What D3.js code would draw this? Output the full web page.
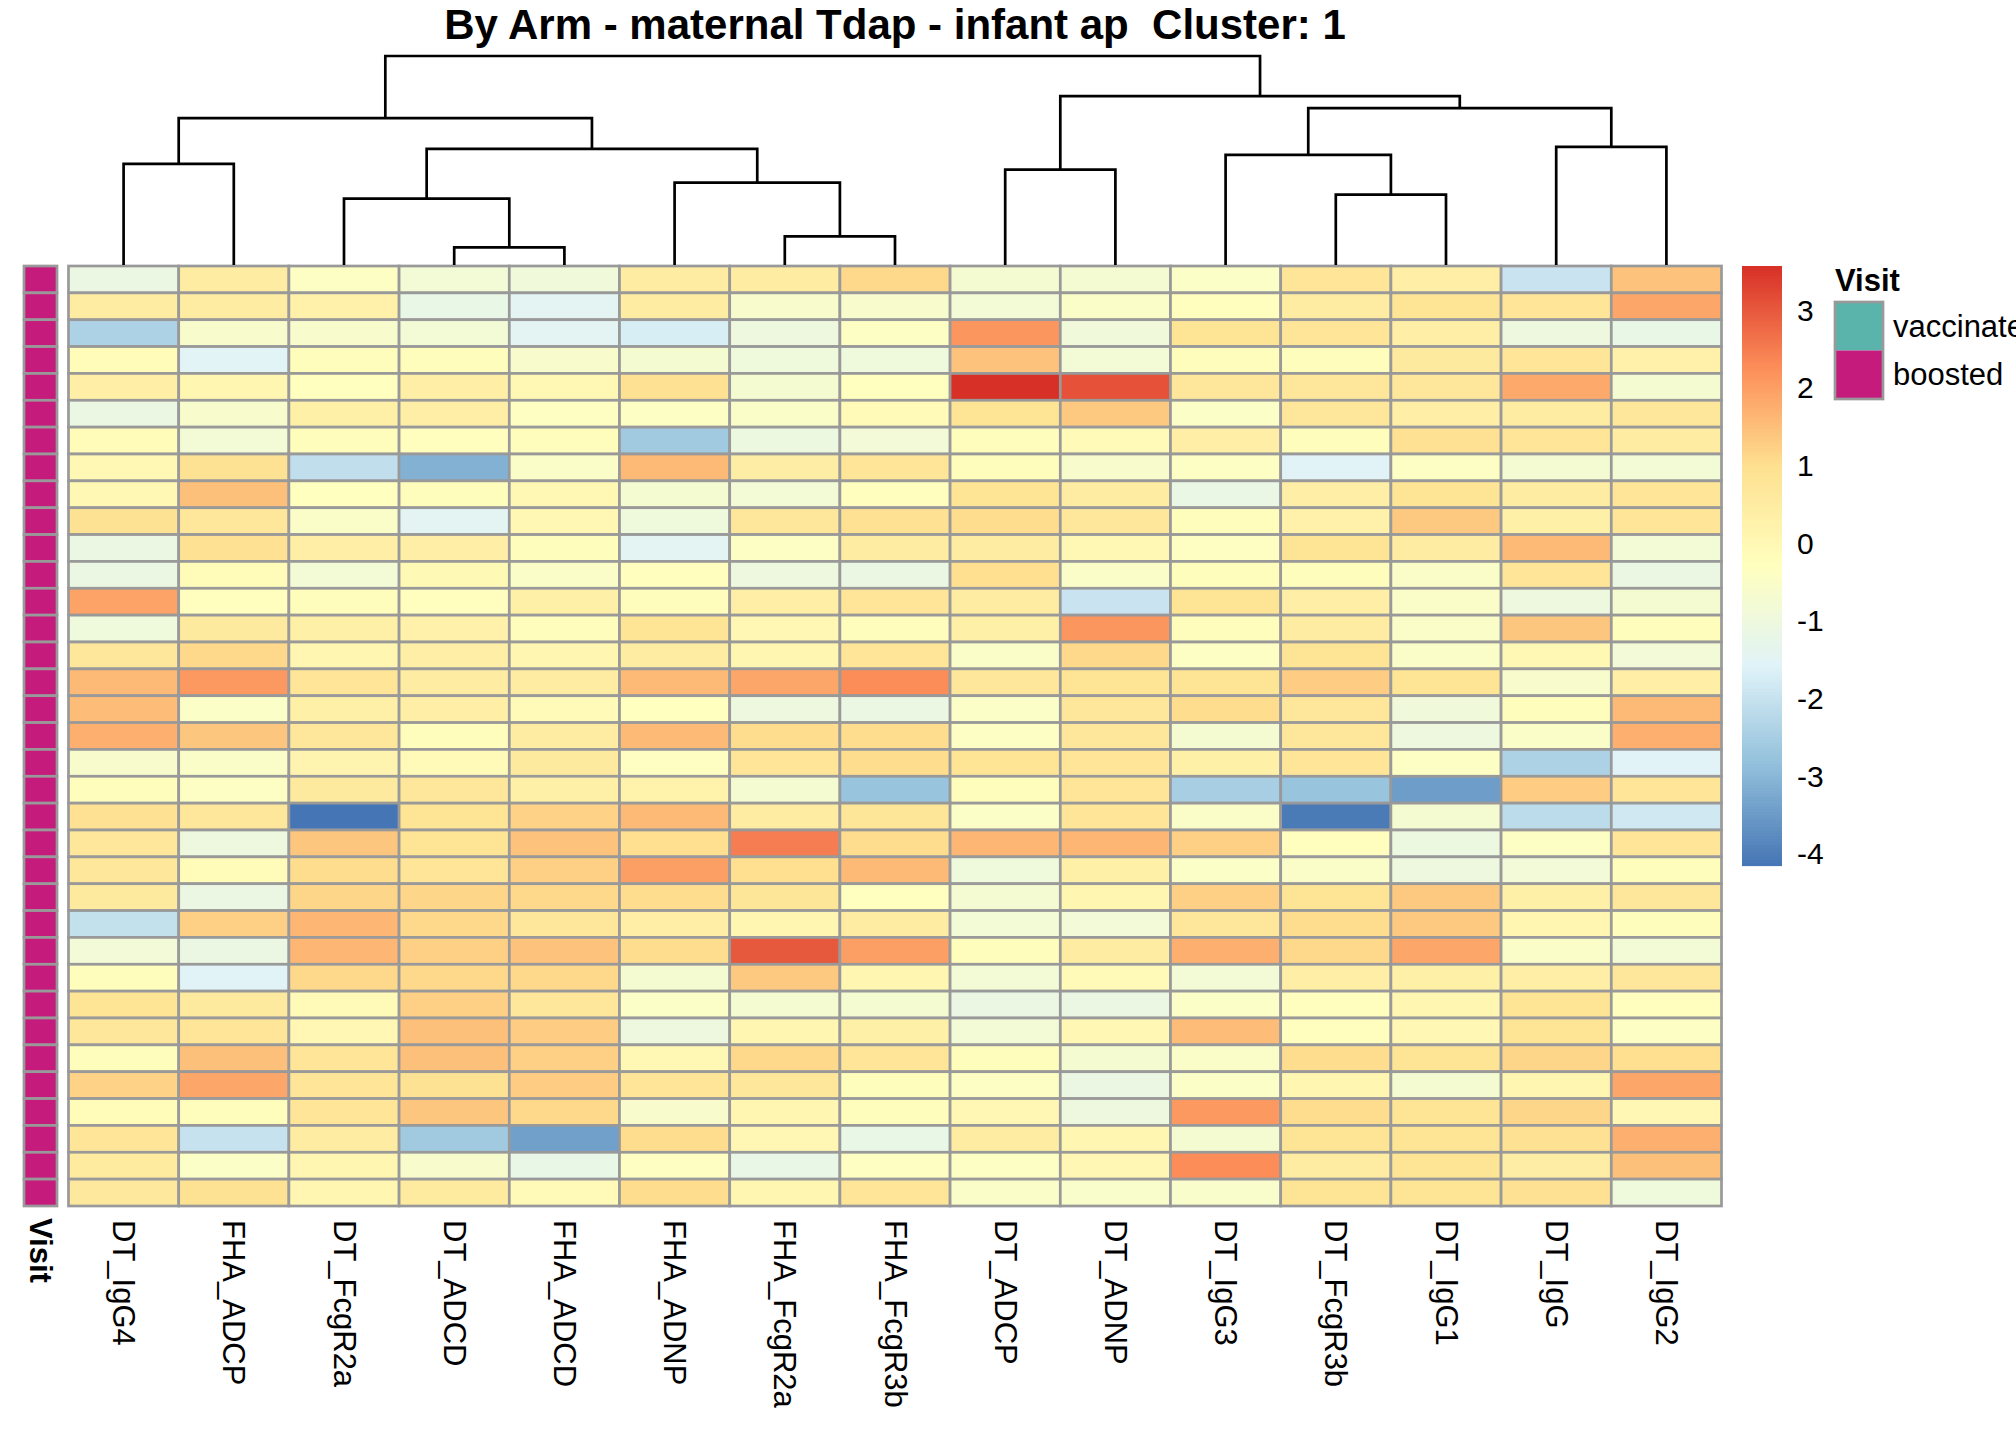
<!DOCTYPE html>
<html>
<head>
<meta charset="utf-8">
<script src="https://cdn.jsdelivr.net/npm/d3@7"></script>
<style>
  body { margin: 0; background: #fff; }
  text { font-family: "Liberation Sans", Arial, sans-serif; }
</style>
</head>
<body>
<div class="container"></div>
<script>
// data
const features = ['DT_IgG4', 'FHA_ADCP', 'DT_FcgR2a', 'DT_ADCD', 'FHA_ADCD', 'FHA_ADNP', 'FHA_FcgR2a', 'FHA_FcgR3b',
                  'DT_ADCP', 'DT_ADNP', 'DT_IgG3', 'DT_FcgR3b', 'DT_IgG1', 'DT_IgG', 'DT_IgG2'];

const values = [
  [-1.1, 0.5, -0.4, -0.8, -0.9, 0.5, 0.5, 1.1, -0.7, -0.75, -0.45, 0.8, 0.4, -1.95, 1.45],
  [0.5, 0.5, 0.3, -1.2, -1.45, 0.5, -0.6, -0.6, -0.8, -0.5, -0.25, 0.5, 0.85, 0.8, 1.9],
  [-2.4, -0.6, -0.6, -0.8, -1.45, -1.7, -1.0, -0.4, 2.15, -0.9, 0.85, 0.8, 0.4, -1.0, -1.2],
  [-0.15, -1.5, -0.2, -0.2, -0.6, -0.7, -0.95, -0.95, 1.45, -0.8, -0.2, -0.2, 0.6, 0.8, 0.3],
  [0.4, 0.1, -0.3, 0.4, 0.0, 0.95, -0.7, -0.3, 3.57, 3.1, 0.7, 0.7, 0.7, 1.85, -0.7],
  [-1.1, -0.6, 0.35, 0.4, -0.35, -0.4, -0.5, -0.1, 0.85, 1.35, -0.45, 0.7, 0.4, 0.5, 0.7],
  [-0.15, -0.8, -0.2, -0.25, -0.2, -2.6, -1.05, -0.85, -0.2, -0.1, 0.4, -0.2, 0.95, 0.8, 0.5],
  [0.0, 0.9, -2.1, -3.1, -0.5, 1.6, 0.45, 0.8, -0.2, -0.6, -0.4, -1.55, -0.4, -0.75, -0.8],
  [0.0, 1.5, -0.3, -0.2, 0.0, -0.7, -0.8, -0.25, 0.85, 0.5, -1.15, 0.4, 0.85, 0.5, 0.8],
  [0.9, 0.7, -0.5, -1.45, 0.05, -0.95, 0.7, 0.95, 1.05, 0.7, -0.2, 0.3, 1.35, 0.35, 0.8],
  [-1.1, 0.95, 0.4, 0.4, -0.2, -1.45, -0.4, 0.5, 0.5, 0.0, -0.35, 0.85, 0.5, 1.6, -0.8],
  [-1.1, -0.15, -0.8, -0.05, -0.5, -0.25, -1.0, -1.1, 1.0, -0.5, -0.2, -0.2, -0.5, 0.8, -1.1],
  [1.95, -0.25, -0.2, -0.25, 0.35, -0.2, 0.4, 0.8, 0.5, -1.95, 0.85, 0.4, -0.5, -1.0, -0.7],
  [-0.95, 0.6, 0.35, 0.3, -0.2, 0.85, 0.05, -0.2, 0.35, 2.15, -0.2, 0.5, -0.5, 1.4, -0.2],
  [0.7, 1.1, 0.1, 0.4, 0.1, 0.5, 0.1, 0.8, -0.5, 1.1, -0.4, 0.85, -0.5, 0.0, -0.85],
  [1.6, 2.1, 0.8, 0.5, 0.5, 1.6, 1.9, 2.3, 0.7, 0.85, 0.85, 1.3, 0.85, -0.6, 0.4],
  [1.55, -0.45, 0.35, 0.4, -0.1, -0.3, -1.0, -1.1, -0.45, 0.7, 1.05, 0.7, -0.9, -0.2, 1.6],
  [1.75, 1.4, 0.7, -0.2, 0.5, 1.6, 1.05, 1.05, -0.4, 0.7, -0.7, 0.7, -1.0, -0.5, 1.75],
  [-0.6, -0.5, 0.15, -0.1, 0.6, -0.35, 0.8, 1.05, 0.85, 0.8, 0.35, 0.8, -0.4, -2.4, -1.55],
  [-0.2, -0.4, 0.6, 0.7, 0.35, 0.25, -0.7, -2.75, -0.2, 0.8, -2.5, -2.75, -3.45, 1.3, 0.8],
  [0.95, 0.7, -4.15, 0.85, 1.2, 1.6, 0.5, 0.75, -0.45, 0.8, -0.5, -4.05, -0.7, -2.15, -1.85],
  [0.7, -1.0, 1.4, 0.85, 1.45, 1.0, 2.5, 1.05, 1.65, 1.65, 1.25, -0.25, -1.05, -0.4, 0.8],
  [0.7, -0.15, 1.05, 0.8, 1.25, 2.0, 1.0, 1.6, -0.95, 0.35, -0.45, -0.5, -1.0, -0.85, -0.2],
  [0.6, -1.1, 1.15, 1.15, 1.1, 1.05, 0.75, -0.3, -0.75, 0.1, 1.25, 0.85, 1.35, 0.35, 0.7],
  [-2.05, 1.25, 1.65, 1.1, 0.7, 0.4, 0.1, 0.5, -0.8, -0.85, 0.7, 1.05, 1.35, 0.1, -0.2],
  [-0.85, -1.1, 1.65, 1.25, 1.45, 1.05, 3.0, 2.0, -0.2, 0.5, 1.75, 1.1, 1.9, -0.5, -0.8],
  [-0.2, -1.55, 1.1, 1.1, 1.1, -0.7, 1.35, 0.1, -0.8, -0.1, -0.8, 0.4, 0.35, 0.4, 0.7],
  [0.85, 0.6, -0.1, 1.25, 0.7, -0.45, -0.7, -0.7, -1.1, -1.1, -0.45, -0.25, 0.1, 0.85, -0.25],
  [0.7, 0.8, 0.05, 1.5, 1.3, -1.0, 0.1, 0.35, -0.8, 0.05, 1.55, -0.25, 0.05, 0.85, -0.4],
  [-0.2, 1.5, 0.8, 1.5, 1.25, 0.0, 1.1, 0.8, -0.2, -0.7, -0.5, 1.05, 0.85, 1.15, 1.0],
  [1.2, 1.9, 0.8, 0.9, 1.3, 0.8, 0.7, -0.2, -0.4, -1.1, -0.45, 0.1, -0.7, 0.1, 1.9],
  [-0.15, -0.2, 0.8, 1.4, 1.1, -0.6, 0.1, -0.2, 0.05, -1.0, 2.1, 1.05, 0.85, 1.15, 0.05],
  [0.8, -2.0, 0.5, -2.6, -3.4, 1.05, 0.05, -1.2, 0.5, 0.1, -0.7, 0.85, 0.85, 0.95, 1.75],
  [0.55, -0.45, 0.1, -0.6, -1.2, -0.35, -1.2, -0.35, -0.4, 0.05, 2.3, 0.5, 0.85, 0.45, 1.5],
  [0.65, 0.9, 0.1, 0.55, -0.1, 1.05, 0.1, 0.8, -0.5, -0.55, -0.55, 0.85, 0.85, 0.95, -0.95]
];

// row annotation (one entry per row) and its levels
const visit = d3.range(values.length).map(() => 'boosted');
const visitLevels = ['vaccinated', 'boosted'];
const visitColors = ['#5AB4AC', '#C51B7D'];

// column clustering, hclust style: negative = leaf (1-based), positive = earlier merge step
const mergePairs = [
  [-4, -5], [-7, -8], [-3, 1], [-12, -13], [-6, 2], [-9, -10], [-1, -2],
  [-11, 4], [3, 5], [-14, -15], [7, 9], [8, 10], [6, 12], [11, 13]
];
const mergeHeights = [0.84, 1.37, 3.18, 3.37, 3.94, 4.56, 4.84, 5.27, 5.56, 5.65, 7.03, 7.51, 8.08, 10.0];

const legendTicks = [-4, -3, -2, -1, 0, 1, 2, 3];
const palette = ['#4575B4', '#91BFDB', '#E0F3F8', '#FFFFBF', '#FEE090', '#FC8D59', '#D73027'];
const title = 'By Arm - maternal Tdap - infant ap  Cluster: 1';

// initial setup
const w = 2016;
const h = 1440;
const [gridLeft, gridRight, gridTop, gridBottom] = [68.5, 1721.5, 266, 1206];
const [dendTop, dendBottom] = [56, 265];
const border = '#999999';

const svg = d3.select('.container')
              .append('svg')
              .attr('width', w)
              .attr('height', h)
              .style('display', 'block');

const x = d3.scaleBand()
            .domain(features)
            .range([gridLeft, gridRight]);

const y = d3.scaleBand()
            .domain(d3.range(values.length))
            .range([gridTop, gridBottom]);

const [vmin, vmax] = d3.extent(values.flat());
const color = d3.scaleLinear()
                .domain(palette.map((c, i) => vmin + i * (vmax - vmin) / (palette.length - 1)))
                .range(palette)
                .interpolate(d3.interpolateRgb);

// title (keep the double space)
svg.append('text')
   .attr('x', (gridLeft + gridRight) / 2)
   .attr('y', 38.5)
   .attr('text-anchor', 'middle')
   .attr('xml:space', 'preserve')
   .style('white-space', 'pre')
   .style('font-size', '42px')
   .style('font-weight', 'bold')
   .text(title);

// heatmap cells
const cells = values.flatMap((row, i) => row.map((v, j) => ({row: i, col: features[j], v})));
svg.append('g')
   .selectAll('rect')
   .data(cells)
   .enter()
   .append('rect')
   .attr('x', d => x(d.col))
   .attr('y', d => y(d.row))
   .attr('width', x.bandwidth())
   .attr('height', y.bandwidth())
   .attr('fill', d => color(d.v))
   .attr('stroke', border)
   .attr('stroke-width', 2.7);

// row annotation
const visitColor = d3.scaleOrdinal().domain(visitLevels).range(visitColors);
svg.append('g')
   .selectAll('rect')
   .data(visit)
   .enter()
   .append('rect')
   .attr('x', 24)
   .attr('y', (d, i) => y(i))
   .attr('width', 33)
   .attr('height', y.bandwidth())
   .attr('fill', d => visitColor(d))
   .attr('stroke', border)
   .attr('stroke-width', 2.7);

svg.append('text')
   .attr('transform', `translate(40, 1218) rotate(90)`)
   .attr('dominant-baseline', 'central')
   .style('font-size', '31px')
   .style('font-weight', 'bold')
   .text('Visit');

// column labels
svg.append('g')
   .selectAll('text')
   .data(features)
   .enter()
   .append('text')
   .attr('transform', d => `translate(${x(d) + x.bandwidth() / 2}, 1220) rotate(90)`)
   .attr('dominant-baseline', 'central')
   .style('font-size', '31px')
   .text(d => d);

// column dendrogram
const nodes = [];
mergePairs.forEach((pair, i) => {
    const kids = pair.map(k => k < 0 ? {name: features[-k - 1], height: 0} : nodes[k - 1]);
    nodes.push({height: mergeHeights[i], children: kids});
});
const root = d3.hierarchy(nodes[nodes.length - 1]);
const hy = d3.scaleLinear()
             .domain([0, d3.max(mergeHeights)])
             .range([dendBottom, dendTop]);

root.eachAfter(n => {
    n.px = n.children ? d3.mean(n.children, c => c.px) : x(n.data.name) + x.bandwidth() / 2;
});

svg.append('g')
   .selectAll('path')
   .data(root.descendants().filter(n => n.children))
   .enter()
   .append('path')
   .attr('d', n => {
       const [a, b] = n.children;
       return `M${a.px},${hy(a.data.height)}V${hy(n.data.height)}H${b.px}V${hy(b.data.height)}`;
   })
   .attr('fill', 'none')
   .attr('stroke', '#000')
   .attr('stroke-width', 2.7);

// colour legend
const legY = d3.scaleLinear()
               .domain([vmin, vmax])
               .range([865.5, 266]);
const steps = d3.range(200).map(i => vmin + (i + 0.5) * (vmax - vmin) / 200);
const stepH = (865.5 - 266) / 200;
svg.append('g')
   .selectAll('rect')
   .data(steps)
   .enter()
   .append('rect')
   .attr('x', 1742)
   .attr('y', d => legY(d) - stepH / 2)
   .attr('width', 40)
   .attr('height', stepH + 0.6)
   .attr('fill', d => color(d));

svg.append('g')
   .selectAll('text')
   .data(legendTicks)
   .enter()
   .append('text')
   .attr('x', 1797)
   .attr('y', d => legY(d))
   .attr('dominant-baseline', 'central')
   .style('font-size', '30px')
   .text(d => d);

// annotation legend
svg.append('text')
   .attr('x', 1835)
   .attr('y', 291)
   .style('font-size', '31px')
   .style('font-weight', 'bold')
   .text('Visit');

const legBox = d3.scaleBand().domain(visitLevels).range([302, 399]);
const annLeg = svg.append('g');
annLeg.selectAll('rect')
      .data(visitLevels)
      .enter()
      .append('rect')
      .attr('x', 1835)
      .attr('y', d => legBox(d))
      .attr('width', 48)
      .attr('height', legBox.bandwidth())
      .attr('fill', d => visitColor(d))
      .attr('stroke', 'none');
annLeg.append('rect')
      .attr('x', 1835)
      .attr('y', 302)
      .attr('width', 48)
      .attr('height', 97)
      .attr('fill', 'none')
      .attr('stroke', border)
      .attr('stroke-width', 2.7);
annLeg.selectAll('text')
      .data(visitLevels)
      .enter()
      .append('text')
      .attr('x', 1893)
      .attr('y', d => legBox(d) + legBox.bandwidth() / 2)
      .attr('dominant-baseline', 'central')
      .style('font-size', '31px')
      .text(d => d);
</script>
</body>
</html>
